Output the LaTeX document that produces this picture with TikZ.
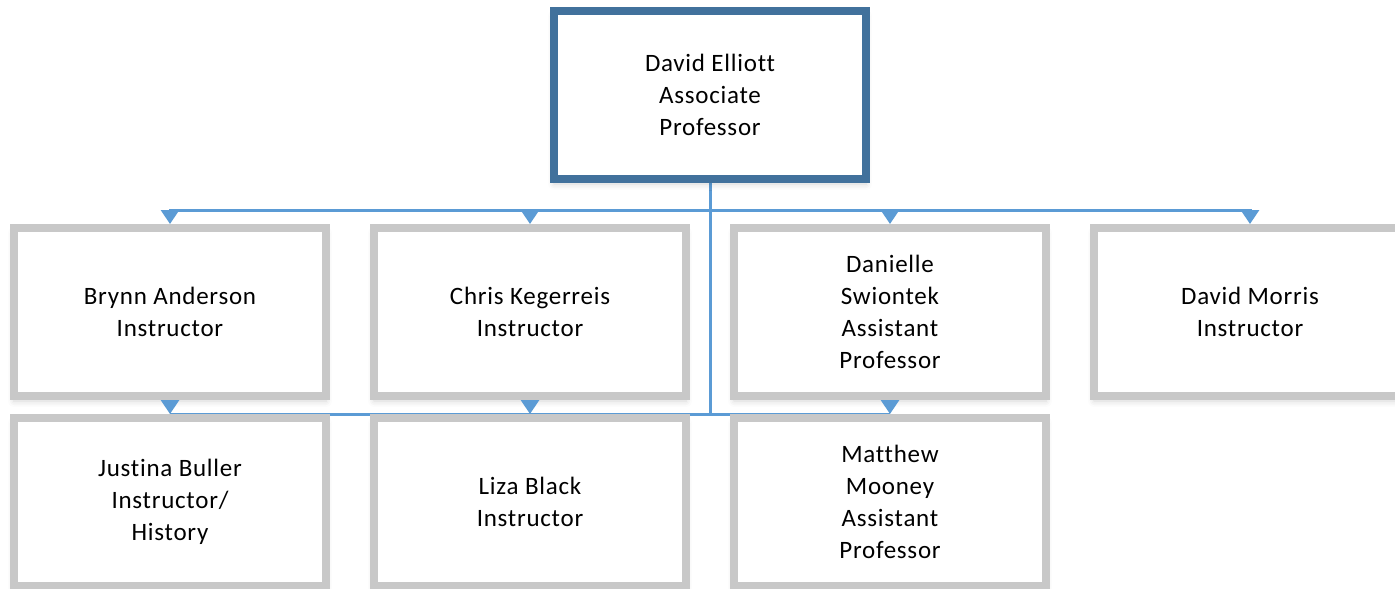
\documentclass[tikz,border=0pt]{standalone}
\usepackage{fontspec}
\setmainfont{Carlito}[LetterSpace=3,Ligatures=NoCommon]
\usetikzlibrary{arrows.meta,backgrounds,shadows.blur}
\definecolor{boxgray}{RGB}{200,200,200}
\definecolor{topblue}{RGB}{65,113,156}
\definecolor{linkblue}{RGB}{91,155,213}
\tikzset{
  orgbox/.style={draw=boxgray, line width=8pt, fill=white, minimum width=312pt, minimum height=168pt,
    inner sep=0pt, align=center, font=\fontsize{25}{32}\selectfont,
    blur shadow={shadow xshift=0pt, shadow yshift=-5pt, shadow blur radius=6pt, shadow opacity=18}},
  headbox/.style={orgbox, draw=topblue},
  link/.style={draw=linkblue, line width=3pt},
  tiplink/.style={link, -{Triangle[width=18pt,length=14pt]}, shorten <=0pt}
}
\begin{document}
\begin{tikzpicture}[x=1pt,y=-1pt]
\useasboundingbox (0,0) rectangle (1395,589);
\node[headbox] (elliott) at (710,95) {David Elliott\\Associate\\Professor};
\node[orgbox] (brynn) at (170,312) {Brynn Anderson\\Instructor};
\node[orgbox] (chris) at (530,312) {Chris Kegerreis\\Instructor};
\node[orgbox] (danielle) at (890,312) {Danielle\\Swiontek\\Assistant\\Professor};
\node[orgbox] (morris) at (1250,312) {David Morris\\Instructor};
\node[orgbox] (justina) at (170,502) {Justina Buller\\Instructor/\\History};
\node[orgbox] (liza) at (530,502) {Liza Black\\Instructor};
\node[orgbox] (matthew) at (890,502) {Matthew\\Mooney\\Assistant\\Professor};
\coordinate (busB) at (710,414);
\coordinate (aL) at (170,210);
\coordinate (aR) at (1250,210);
\coordinate (bL) at (170,414);
\coordinate (bR) at (890,414);
\coordinate (t1) at (170,209);
\coordinate (t2) at (530,209);
\coordinate (t3) at (890,209);
\coordinate (t4) at (1250,209);
\coordinate (u1) at (170,400);
\coordinate (u2) at (530,400);
\coordinate (u3) at (890,400);
\begin{scope}[on background layer]
\draw[link] (elliott.south) -- (busB);
\draw[link] (aL) -- (aR);
\draw[link] (bL) -- (bR);
\end{scope}
\draw[tiplink] (t1) -- (brynn.north);
\draw[tiplink] (t2) -- (chris.north);
\draw[tiplink] (t3) -- (danielle.north);
\draw[tiplink] (t4) -- (morris.north);
\draw[tiplink] (u1) -- (justina.north);
\draw[tiplink] (u2) -- (liza.north);
\draw[tiplink] (u3) -- (matthew.north);
\end{tikzpicture}
\end{document}
